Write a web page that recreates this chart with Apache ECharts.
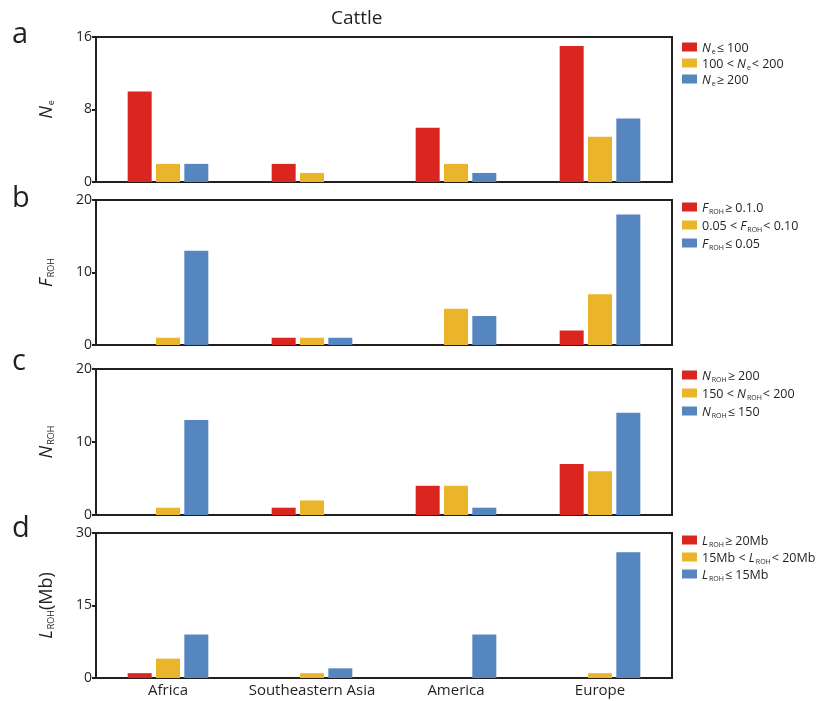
<!DOCTYPE html>
<html>
<head>
<meta charset="utf-8">
<script src="https://cdn.jsdelivr.net/npm/echarts@6/dist/echarts.min.js"></script>
<style>html,body{margin:0;padding:0;background:#fff}#c{width:816px;height:701px}</style>
</head>
<body>
<div id="c"></div>
<script>
const categories = ['Africa', 'Southeastern Asia', 'America', 'Europe'];
// panel a: Ne
const aHigh = [10, 2, 6, 15];
const aMid = [2, 1, 2, 5];
const aLow = [2, 0, 1, 7];
const aTicks = [0, 8, 16];
// panel b: FROH
const bHigh = [0, 1, 0, 2];
const bMid = [1, 1, 5, 7];
const bLow = [13, 1, 4, 18];
const bTicks = [0, 10, 20];
// panel c: NROH
const cHigh = [0, 1, 4, 7];
const cMid = [1, 2, 4, 6];
const cLow = [13, 0, 1, 14];
const cTicks = [0, 10, 20];
// panel d: LROH
const dHigh = [1, 0, 0, 0];
const dMid = [4, 1, 0, 1];
const dLow = [9, 2, 9, 26];
const dTicks = [0, 15, 30];

const legendA = ['{i|N}{s|e}{t|≤ 100}', '{t|100 < }{i|N}{s|e}{t|< 200}', '{i|N}{s|e}{t|≥ 200}'];
const legendB = ['{i|F}{s|ROH}{t|≥ 0.1.0}', '{t|0.05 < }{i|F}{s|ROH}{t|< 0.10}', '{i|F}{s|ROH}{t|≤ 0.05}'];
const legendC = ['{i|N}{s|ROH}{t|≥ 200}', '{t|150 < }{i|N}{s|ROH}{t|< 200}', '{i|N}{s|ROH}{t|≤ 150}'];
const legendD = ['{i|L}{s|ROH}{t|≥ 20Mb}', '{t|15Mb < }{i|L}{s|ROH}{t|< 20Mb}', '{i|L}{s|ROH}{t|≤ 15Mb}'];
const axisNames = ['{i|N}{s|e}', '{i|F}{s|ROH}', '{i|N}{s|ROH}', '{i|L}{s|ROH}{t|(Mb)}'];

const colors = ['#da261e', '#eab52a', '#5686c0'];
const ink = '#231f20';
const font = '"Open Sans", "Liberation Sans", sans-serif';

const panels = [
  {data: [aHigh, aMid, aLow], ticks: aTicks, legend: legendA, top: 37, height: 145, legTop: 37, gap: 3},
  {data: [bHigh, bMid, bLow], ticks: bTicks, legend: legendB, top: 200, height: 145, legTop: 197, gap: 5},
  {data: [cHigh, cMid, cLow], ticks: cTicks, legend: legendC, top: 369, height: 146, legTop: 365, gap: 5},
  {data: [dHigh, dMid, dLow], ticks: dTicks, legend: legendD, top: 533, height: 145, legTop: 530, gap: 4}
];

const richLeg = {
  i: {fontStyle: 'italic', fontSize: 12.5, color: ink, fontFamily: font, lineHeight: 16, verticalAlign: 'bottom'},
  t: {fontSize: 12.5, color: ink, fontFamily: font, lineHeight: 16, verticalAlign: 'bottom'},
  s: {fontSize: 7, color: ink, fontFamily: font, lineHeight: 7, verticalAlign: 'bottom', padding: [0, 1, 0, 1]}
};
const richAxis = {
  i: {fontStyle: 'italic', fontSize: 18, color: ink, fontFamily: font, lineHeight: 21, verticalAlign: 'bottom'},
  t: {fontSize: 18, color: ink, fontFamily: font, lineHeight: 21, verticalAlign: 'bottom'},
  s: {fontSize: 9, color: ink, fontFamily: font, lineHeight: 9, verticalAlign: 'bottom', padding: [0, 0, 0, 1]}
};

const grid = [], xAxis = [], yAxis = [], series = [], legend = [];
panels.forEach((p, k) => {
  grid.push({left: 96, width: 576, top: p.top, height: p.height, show: true,
    borderColor: ink, borderWidth: 2, backgroundColor: 'transparent'});
  xAxis.push({type: 'category', gridIndex: k, data: categories,
    axisLine: {lineStyle: {color: ink, width: 2}}, axisTick: {show: false},
    axisLabel: {show: k === 3, interval: 0, color: ink, fontSize: 15, fontFamily: font, margin: 5}});
  const t = p.ticks;
  yAxis.push({type: 'value', gridIndex: k, min: t[0], max: t[t.length - 1], interval: t[1] - t[0],
    splitLine: {show: false},
    axisLine: {show: true, lineStyle: {color: ink, width: 2}},
    axisTick: {show: true, length: 4, lineStyle: {color: ink, width: 2}},
    axisLabel: {color: ink, fontSize: 14, fontFamily: font, margin: 4},
    name: axisNames[k], nameLocation: 'middle', nameRotate: 90, nameGap: 40,
    nameTextStyle: {fontSize: 18, fontFamily: font, color: ink, rich: richAxis}});
  const names = [];
  p.data.forEach((vals, j) => {
    const nm = 'p' + k + 's' + j;
    names.push(nm);
    series.push({type: 'bar', name: nm, xAxisIndex: k, yAxisIndex: k, data: vals,
      barWidth: 24, barGap: '18%', itemStyle: {color: colors[j]}, silent: true});
  });
  const lab = p.legend;
  legend.push({orient: 'vertical', left: 677, top: p.legTop, itemWidth: 15, itemHeight: 9,
    itemGap: p.gap, data: names, selectedMode: false, icon: 'rect',
    formatter: (n) => lab[+n.slice(-1)],
    textStyle: {fontSize: 12.5, fontFamily: font, color: ink, rich: richLeg}});
});

const graphic = [
  {type: 'text', left: 331, top: 9, style: {text: 'Cattle', font: '19px ' + font, fill: ink}},
  {type: 'text', left: 12, top: 20, style: {text: 'a', font: '29px ' + font, fill: ink}},
  {type: 'text', left: 12, top: 184, style: {text: 'b', font: '29px ' + font, fill: ink}},
  {type: 'text', left: 12, top: 347, style: {text: 'c', font: '29px ' + font, fill: ink}},
  {type: 'text', left: 12, top: 514, style: {text: 'd', font: '29px ' + font, fill: ink}}
];

const chart = echarts.init(document.getElementById('c'));
chart.setOption({animation: false, backgroundColor: '#fff', grid, xAxis, yAxis, series, legend, graphic});
</script>
</body>
</html>
